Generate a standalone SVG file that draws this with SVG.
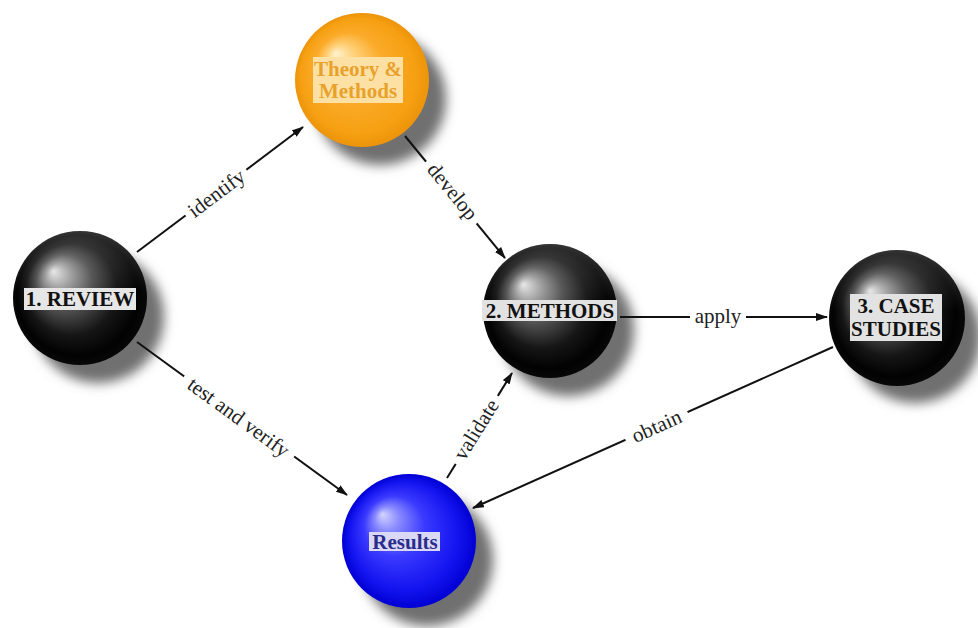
<svg xmlns="http://www.w3.org/2000/svg" width="978" height="628" viewBox="0 0 978 628">
  <style>
    .edge { fill: none; stroke: #111; stroke-width: 2; marker-end: url(#arrow); }
    .elabel { font-family: "Liberation Serif", "Times New Roman", serif; font-size: 21px; fill: #222; text-anchor: middle; }
    .gap { fill: #fff; }
    .nlabel { font-family: "Liberation Serif", "Times New Roman", serif; font-size: 21px; font-weight: bold; text-anchor: middle; }
    .shadow { fill: #707070; filter: url(#blur); }
    .rim { fill: url(#rimLight); }
  </style>
  <defs>
    <marker id="arrow" markerWidth="12" markerHeight="8" refX="11" refY="4" orient="auto" markerUnits="userSpaceOnUse">
      <path d="M0,0 L12,4 L0,8 z" fill="#111"/>
    </marker>
    <filter id="blur" x="-30%" y="-30%" width="160%" height="160%">
      <feGaussianBlur stdDeviation="6"/>
    </filter>
    <radialGradient id="gBlack" cx="0.5" cy="0.5" r="0.5" fx="0.3" fy="0.3">
      <stop offset="0" stop-color="#e6e6e6"/>
      <stop offset="0.18" stop-color="#a0a0a0"/>
      <stop offset="0.42" stop-color="#505050"/>
      <stop offset="0.68" stop-color="#161616"/>
      <stop offset="0.9" stop-color="#020202"/>
      <stop offset="1" stop-color="#080808"/>
    </radialGradient>
    <radialGradient id="gOrange" cx="0.5" cy="0.5" r="0.5" fx="0.3" fy="0.3">
      <stop offset="0" stop-color="#fff2d0"/>
      <stop offset="0.2" stop-color="#ffd27c"/>
      <stop offset="0.5" stop-color="#fbab2a"/>
      <stop offset="0.85" stop-color="#f6a012"/>
      <stop offset="1" stop-color="#ec940a"/>
    </radialGradient>
    <radialGradient id="gBlue" cx="0.5" cy="0.5" r="0.5" fx="0.3" fy="0.3">
      <stop offset="0" stop-color="#d4d4ff"/>
      <stop offset="0.18" stop-color="#8a8aff"/>
      <stop offset="0.45" stop-color="#3a3aff"/>
      <stop offset="0.8" stop-color="#1414f0"/>
      <stop offset="1" stop-color="#0000d4"/>
    </radialGradient>
    <linearGradient id="rimLight" x1="0" y1="0" x2="0" y2="1">
      <stop offset="0" stop-color="#fff" stop-opacity="0.18"/>
      <stop offset="0.45" stop-color="#fff" stop-opacity="0"/>
    </linearGradient>
  </defs>

  <rect width="978" height="628" fill="#fff"/>

  <!-- Theory & Methods -->
  <g id="node-theory">
    <circle class="shadow" cx="380" cy="99" r="66"/>
    <circle cx="362" cy="80" r="67" fill="url(#gOrange)"/>
    <rect x="313" y="57" width="90" height="46" fill="#fde1a4"/>
    <text class="nlabel" x="358" y="76" font-size="19" fill="#e9a12c">Theory &amp;</text>
    <text class="nlabel" x="358" y="98" font-size="19" fill="#e9a12c">Methods</text>
  </g>

  <!-- 1. REVIEW -->
  <g id="node-review">
    <circle class="shadow" cx="98" cy="317" r="66"/>
    <circle cx="80" cy="298" r="67" fill="url(#gBlack)"/>
    <circle class="rim" cx="80" cy="298" r="67"/>
    <rect x="24" y="288" width="112" height="22" fill="#e6e6e6"/>
    <text class="nlabel" x="80" y="306" fill="#111">1. REVIEW</text>
  </g>

  <!-- 2. METHODS -->
  <g id="node-methods">
    <circle class="shadow" cx="568" cy="330" r="66"/>
    <circle cx="550" cy="311" r="67" fill="url(#gBlack)"/>
    <circle class="rim" cx="550" cy="311" r="67"/>
    <rect x="482" y="300" width="135" height="21" fill="#e2e2e2"/>
    <text class="nlabel" x="550" y="318" fill="#111">2. METHODS</text>
  </g>

  <!-- 3. CASE STUDIES -->
  <g id="node-case">
    <circle class="shadow" cx="915" cy="337" r="66"/>
    <circle cx="897" cy="318" r="68" fill="url(#gBlack)"/>
    <circle class="rim" cx="897" cy="318" r="68"/>
    <rect x="850" y="294" width="92" height="47" fill="#e2e2e2"/>
    <text class="nlabel" x="896" y="313" font-size="20" fill="#111">3. CASE</text>
    <text class="nlabel" x="896" y="336" font-size="20" fill="#111">STUDIES</text>
  </g>

  <!-- Results -->
  <g id="node-results">
    <circle class="shadow" cx="427" cy="560" r="66"/>
    <circle cx="409" cy="541" r="67" fill="url(#gBlue)"/>
    <rect x="369" y="532" width="71" height="19" fill="#d9d9f5"/>
    <text class="nlabel" x="405" y="549" fill="#2b2b8e">Results</text>
  </g>

  <!-- Connectors -->
  <g id="connectors">
    <line class="edge" x1="137" y1="252" x2="303" y2="127"/>
    <line class="edge" x1="405" y1="136" x2="505" y2="258"/>
    <line class="edge" x1="137" y1="342" x2="347" y2="495"/>
    <line class="edge" x1="447" y1="478" x2="512" y2="373"/>
    <line class="edge" x1="620" y1="317" x2="827" y2="317"/>
    <line class="edge" x1="833" y1="347" x2="473" y2="508"/>

    <g transform="translate(217,194) rotate(-37)">
      <rect class="gap" x="-38" y="-12" width="76" height="24"/>
      <text class="elabel" y="6">identify</text>
    </g>
    <g transform="translate(452,192) rotate(50.7)">
      <rect class="gap" x="-40" y="-12" width="80" height="24"/>
      <text class="elabel" y="6">develop</text>
    </g>
    <g transform="translate(238,418) rotate(36)">
      <rect class="gap" x="-68" y="-12" width="136" height="24"/>
      <text class="elabel" y="6">test and verify</text>
    </g>
    <g transform="translate(477,430) rotate(-58.2)">
      <rect class="gap" x="-40" y="-12" width="80" height="24"/>
      <text class="elabel" y="6">validate</text>
    </g>
    <g transform="translate(718,317)">
      <rect class="gap" x="-28" y="-12" width="56" height="24"/>
      <text class="elabel" y="6">apply</text>
    </g>
    <g transform="translate(657,427) rotate(-24.1)">
      <rect class="gap" x="-34" y="-12" width="68" height="24"/>
      <text class="elabel" y="6">obtain</text>
    </g>
  </g>
</svg>
